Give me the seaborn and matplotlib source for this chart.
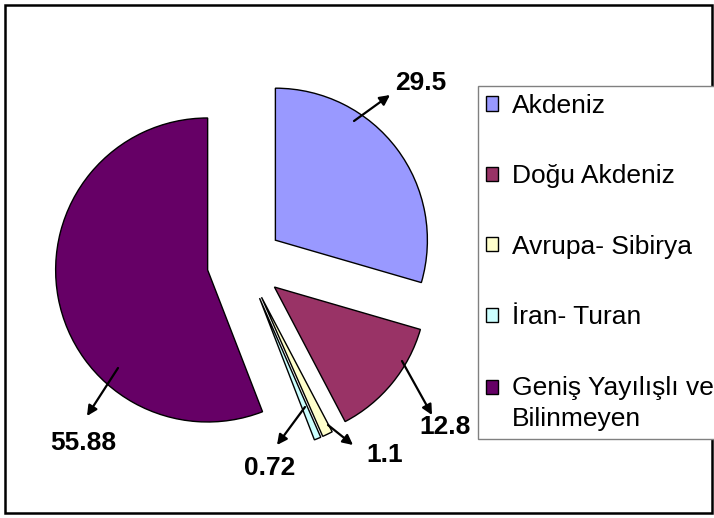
import matplotlib
matplotlib.use('Agg')
import matplotlib.pyplot as plt
import seaborn as sns
from matplotlib.patches import Rectangle

# data
bolgeler = ['Akdeniz', 'Doğu Akdeniz', 'Avrupa- Sibirya', 'İran- Turan',
            'Geniş Yayılışlı ve\nBilinmeyen']
oranlar = [29.5, 12.8, 1.1, 0.72, 55.88]
etiketler = ['29.5', '12.8', '1.1', '0.72', '55.88']
renkler = ['#9999FF', '#993366', '#FFFFCC', '#CCFFFF', '#660066']

sns.set_theme(style='white')
plt.rcParams['font.family'] = ['Liberation Sans', 'DejaVu Sans']
plt.rcParams['text.color'] = 'black'

W, H = 714, 518
CX, CY, R = 245, 263, 152


def px(x, y):
    # pixel position -> data units of the pie axes
    return ((x - CX) / R, (CY - y) / R)


fig = plt.figure(figsize=(W / 100, H / 100), dpi=100)
ax = fig.add_axes([0, 0, 1, 1])
wedges, _ = ax.pie(oranlar, colors=renkler, startangle=90, counterclock=False,
                   explode=[0.25] * len(oranlar),
                   wedgeprops=dict(edgecolor='black', linewidth=1))
ax.set_aspect('auto')
ax.set_xlim(px(0, 0)[0], px(W, 0)[0])
ax.set_ylim(px(0, H)[1], px(0, 0)[1])
ax.axis('off')

# label positions and leader arrows (start on slice, head near label)
yerler = [(421, 83), (445, 427), (385, 455), (270, 468), (83, 443)]
oklar = [((354, 121), (390, 95)), ((402, 361), (432, 415)),
         ((328, 425), (353, 445)), ((305, 407), (277, 445)),
         ((118, 368), (87, 416))]
for et, yer, (bas, son) in zip(etiketler, yerler, oklar):
    ax.annotate('', xy=px(*son), xytext=px(*bas),
                arrowprops=dict(arrowstyle='-|>', color='black', lw=1.6,
                                mutation_scale=15, shrinkA=0, shrinkB=0))
    ax.text(*px(*yer), et, ha='center', va='center', fontsize=19,
            fontweight='bold', color='black')

leg = fig.legend(wedges, bolgeler, loc='upper left',
                 bbox_to_anchor=(478 / W, 1 - 86 / H), borderaxespad=0,
                 fontsize=19, handlelength=0.45, handleheight=0.45,
                 handletextpad=0.55, borderpad=0.3, labelspacing=1.76,
                 frameon=True, fancybox=False, edgecolor='#808080',
                 framealpha=1, labelcolor='black')
leg.get_frame().set_linewidth(1)
leg.texts[-1].set_linespacing(1.4)
# marker of the two-line entry sits on its first line
son_kutu = leg.legend_handles[-1]
son_kutu.set_y(son_kutu.get_y() + 12)

fig.patches.append(Rectangle((5 / W, 5 / H), 707 / W, 508 / H, fill=False,
                             edgecolor='black', linewidth=1.8,
                             transform=fig.transFigure, figure=fig))

fig.savefig('out.png', dpi=100)
